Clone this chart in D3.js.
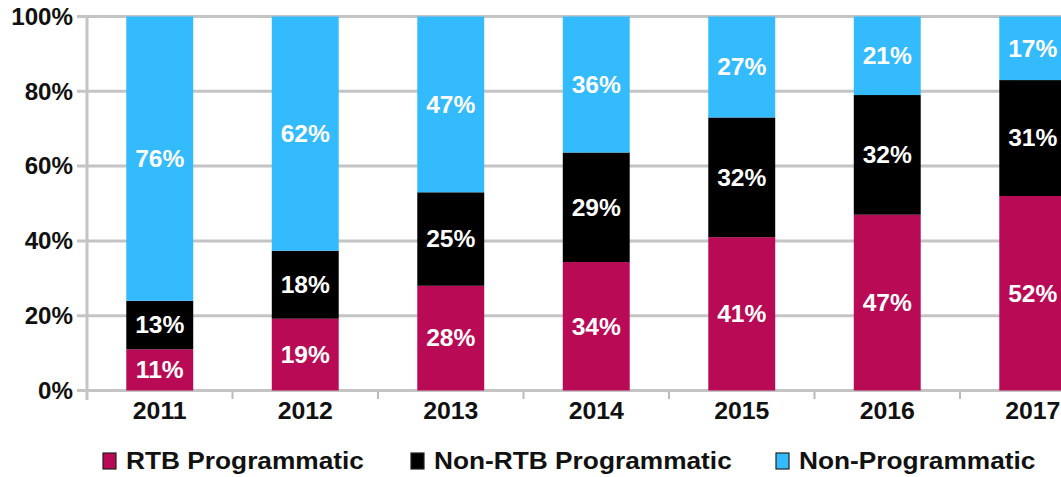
<!DOCTYPE html>
<html><head><meta charset="utf-8">
<script src="https://cdn.jsdelivr.net/npm/d3@7"></script>
<style>
body{margin:0;background:#fff;}
text{font-family:"Liberation Sans",Arial,sans-serif;font-weight:bold;}
</style></head>
<body>
<svg id="chart" width="1061" height="477"></svg>
<script>
const years = ["2011","2012","2013","2014","2015","2016","2017"];
const seriesNames = ["RTB Programmatic","Non-RTB Programmatic","Non-Programmatic"];
const rtb = [11,19,28,34,41,47,52];
const nonRtb = [13,18,25,29,32,32,31];
const nonProg = [76,62,47,36,27,21,17];
const yTicks = [0,20,40,60,80,100];
const colors = ["#b90a55","#000000","#33bbfd"];

const svg = d3.select("#chart");
const rows = years.map((y,i)=>({year:y,"RTB Programmatic":rtb[i],"Non-RTB Programmatic":nonRtb[i],"Non-Programmatic":nonProg[i]}));
const stack = d3.stack().keys(seriesNames).offset(d3.stackOffsetExpand);
const stacked = stack(rows);

const x0 = 87, step = 145.5;
const x = d3.scaleBand().domain(years).range([x0, x0 + step*years.length]).paddingInner(0.54).paddingOuter(0.27);
const y = d3.scaleLinear().domain([0,1]).range([390.5,16.5]);

// gridlines
svg.append("g").selectAll("line").data(yTicks).join("line")
  .attr("x1",77).attr("x2",1061)
  .attr("y1",d=>y(d/100)).attr("y2",d=>y(d/100))
  .attr("stroke","#c4c4c4").attr("stroke-width",3);
// y axis line
svg.append("line").attr("x1",x0).attr("x2",x0).attr("y1",y(1)).attr("y2",400)
  .attr("stroke","#c4c4c4").attr("stroke-width",3);
// x band ticks
svg.append("g").selectAll("line").data(years.slice(1)).join("line")
  .attr("x1",d=>x(d)-x.step()*x.paddingInner()/2).attr("x2",d=>x(d)-x.step()*x.paddingInner()/2)
  .attr("y1",392).attr("y2",399).attr("stroke","#bbbbbb").attr("stroke-width",2);

// y labels
svg.append("g").selectAll("text").data(yTicks).join("text")
  .attr("transform",d=>`translate(73,${y(d/100)}) scale(1.05,1)`).attr("dy","0.36em").attr("text-anchor","end")
  .attr("font-size",23).attr("fill","#111").text(d=>d+"%");

// bars
const g = svg.append("g");
stacked.forEach((s,si)=>{
  g.append("g").selectAll("rect").data(s).join("rect")
    .attr("x",d=>x(d.data.year)).attr("width",x.bandwidth())
    .attr("y",d=>y(d[1])).attr("height",d=>y(d[0])-y(d[1]))
    .attr("fill",colors[si]);
  g.append("g").selectAll("text").data(s).join("text")
    .attr("transform",d=>`translate(${x(d.data.year)+x.bandwidth()/2},${(y(d[0])+y(d[1]))/2}) scale(1.07,1)`)
    .attr("dy","0.36em")
    .attr("text-anchor","middle").attr("font-size",23).attr("fill","#fff")
    .text(d=>d.data[s.key]+"%");
});

// x labels
svg.append("g").selectAll("text").data(years).join("text")
  .attr("transform",d=>`translate(${x(d)+x.bandwidth()/2},419) scale(1.08,1)`)
  .attr("text-anchor","middle").attr("font-size",23).attr("fill","#111").text(d=>d);

// legend
const legX = [103,411,776];
const leg = svg.append("g").selectAll("g").data(seriesNames).join("g")
  .attr("transform",(d,i)=>`translate(${legX[i]},453)`);
leg.append("rect").attr("width",13).attr("height",16).attr("fill",(d,i)=>colors[i])
  .attr("stroke","#222").attr("stroke-width",1.2);
leg.append("text").attr("transform","translate(23,16) scale(1.095,1)").attr("font-size",24).attr("fill","#111").text(d=>d);
</script>
</body></html>
